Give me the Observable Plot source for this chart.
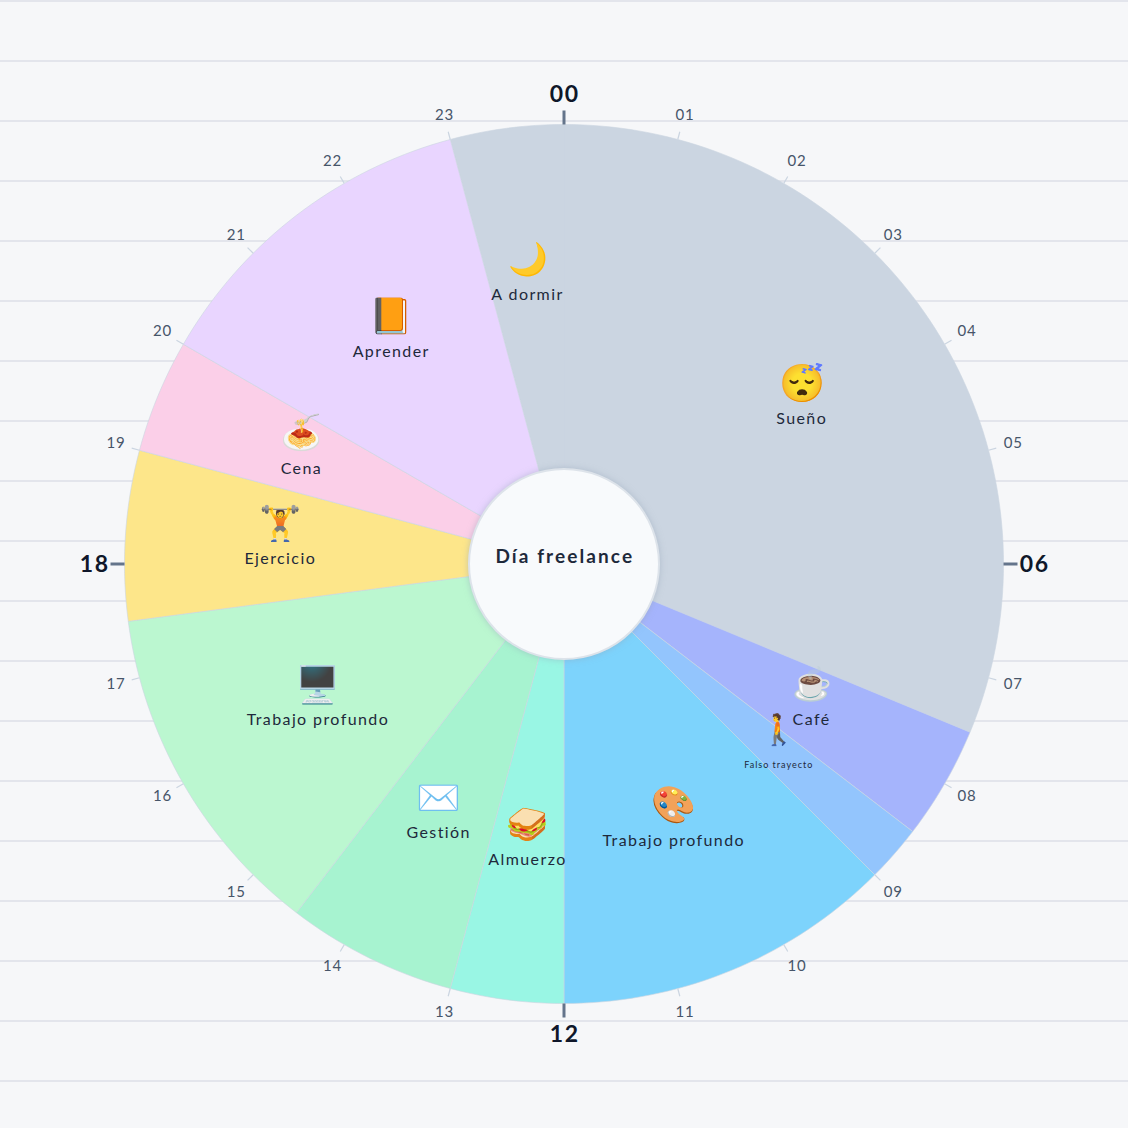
<!DOCTYPE html>
<html><head><meta charset="utf-8">
<style>html,body{margin:0;padding:0;background:#f6f7f9;}svg{display:block}
.lab text{letter-spacing:1.4px}
.small text{letter-spacing:1px}
.tick text{letter-spacing:.8px}
.major text{letter-spacing:1.6px}
.center text{letter-spacing:2.1px}
</style>
<script src="https://cdn.jsdelivr.net/npm/d3@7"></script>
<script src="https://cdn.jsdelivr.net/npm/@observablehq/plot@0.6"></script>
</head><body><div id="c"></div>
<script>
const names=["A dormir","Sueño","Café","Falso trayecto","Trabajo profundo","Almuerzo","Gestión","Trabajo profundo","Ejercicio","Cena","Aprender"];
const emojis=["🌙","😴","☕","🚶","🎨","🥪","✉️","🖥️","🏋️","🍝","📙"];
const starts=[23,0,7.5,8.5,9,12,13,14.5,17.5,19,20];
const ends=[24,7.5,8.5,9,12,13,14.5,17.5,19,20,23];
const colors=["#cbd5e1","#cbd5e1","#a5b4fc","#93c5fd","#7dd3fc","#99f6e4","#a7f3d0","#bbf7d0","#fde68a","#fbcfe8","#e9d5ff"];
const labelSizes=[16,16,16,9,16,16,16,16,16,16,16];
const emojiSizes=[32,37,32,30,36,34,36,36,34,34,35];
const hours=d3.range(24);
const majorHours=[0,6,12,18];
const gridLines=[563,503,443,383,323,263,203,143,83,23,-37,-97,-157,-217,-277,-337,-397,-457,-517];
const R=439.5, r0=95, labelR=285;
const px=(h,r)=>r*Math.sin(h/24*2*Math.PI), py=(h,r)=>r*Math.cos(h/24*2*Math.PI);
const segs=names.map((n,i)=>({name:n,emoji:emojis[i],s:starts[i],e:ends[i],color:colors[i],m:(starts[i]+ends[i])/2,small:labelSizes[i]<12,ls:labelSizes[i],es:emojiSizes[i]}));
const wedge=segs.flatMap((d,i)=>{
  const n=Math.ceil((d.e-d.s)*12);
  const arc=d3.range(n+1).map(k=>{const h=d.s+(d.e-d.s)*k/n;return {i,x:px(h,R),y:py(h,R),color:d.color}});
  return [{i,x:0,y:0,color:d.color},...arc,{i,x:0,y:0,color:d.color}];
});
const font="'Lato','Noto Sans',sans-serif";
const minor=hours.filter(h=>!majorHours.includes(h));
const fmt=h=>String(h).padStart(2,"0");
const textMark=(data,o)=>Plot.text(data,{fontFamily:font,...o});
const plot=Plot.plot({
  width:1128,height:1128,margin:0,
  style:{background:"#f6f7f9"},
  x:{domain:[-564,564],range:[-0.5,1127.5],axis:null},
  y:{domain:[-564,564],range:[1127.5,-0.5],axis:null},
  marks:[
    Plot.ruleY(gridLines,{stroke:"#e3e5ec",strokeWidth:2}),
    Plot.line(wedge,{x:"x",y:"y",z:"i",fill:"color",stroke:"#cbd5e1",strokeOpacity:0.6,strokeWidth:1,curve:"linear"}),
    Plot.link(minor,{x1:h=>px(h,R),y1:h=>py(h,R),x2:h=>px(h,R+8),y2:h=>py(h,R+8),stroke:"#cbd5e1",strokeWidth:1.2}),
    Plot.link(majorHours,{x1:h=>px(h,R),y1:h=>py(h,R),x2:h=>px(h,R+14),y2:h=>py(h,R+14),stroke:"#64748b",strokeWidth:3}),
    textMark(minor,{className:"tick",x:h=>px(h,R+25),y:h=>py(h,R+25),dx:0.7,dy:-0.5,text:fmt,fontSize:15,fontWeight:400,fill:"#475569"}),
    textMark(majorHours,{className:"major",x:h=>px(h,R+30.5),y:h=>py(h,R+30.5),dx:0.8,dy:1,text:fmt,fontSize:23,fontWeight:700,fill:"#0f172a"}),
    Plot.dot([0],{x:()=>0,y:()=>0,r:95,fill:"#f8fafc",stroke:"#dde3ea",strokeWidth:2,imageFilter:"drop-shadow(0 0 3px rgba(148,163,184,.5))"}),
    textMark(["Día freelance"],{className:"center",x:()=>0,y:()=>7,dx:0.8,text:d=>d,fontSize:19,fontWeight:700,fill:"#1e293b"}),
    Plot.text(segs,{x:d=>px(d.m,labelR),y:d=>py(d.m,labelR),text:"emoji",fontSize:"es",dx:1,dy:-21.5,fontFamily:"'Noto Color Emoji','Noto Sans',sans-serif"}),
    textMark(segs.filter(d=>!d.small),{className:"lab",x:d=>px(d.m,labelR),y:d=>py(d.m,labelR),text:"name",fontSize:"ls",fontWeight:400,dx:0.7,dy:13.5,fill:"#1e293b"}),
    textMark(segs.filter(d=>d.small),{className:"small",x:d=>px(d.m,labelR),y:d=>py(d.m,labelR),text:"name",fontSize:"ls",fontWeight:400,dx:0.5,dy:13.5,fill:"#1e293b"})
  ]
});
document.getElementById("c").appendChild(plot);
</script></body></html>
